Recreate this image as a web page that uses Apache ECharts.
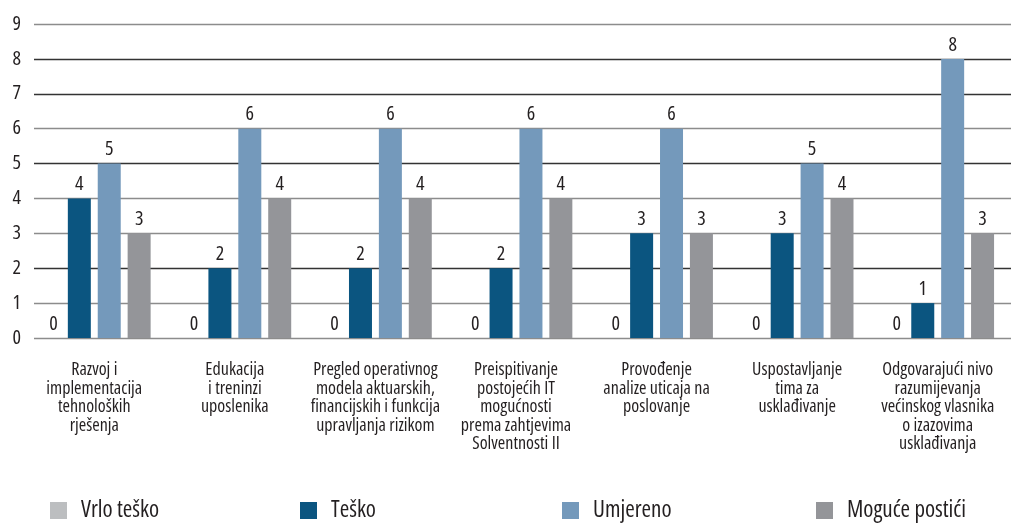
<!DOCTYPE html>
<html>
<head>
<meta charset="utf-8">
<script src="https://cdn.jsdelivr.net/npm/echarts@6/dist/echarts.min.js"></script>
<style>html,body{margin:0;padding:0;background:#fff}#c{width:1011px;height:524px}</style>
</head>
<body>
<div id="c"></div>
<script>
const categories = [
  "Razvoj i\nimplementacija\ntehnoloških\nrješenja",
  "Edukacija\ni treninzi\nuposlenika",
  "Pregled operativnog\nmodela aktuarskih,\nfinancijskih i funkcija\nupravljanja rizikom",
  "Preispitivanje\npostojećih IT\nmogućnosti\nprema zahtjevima\nSolventnosti II",
  "Provođenje\nanalize uticaja na\nposlovanje",
  "Uspostavljanje\ntima za\nusklađivanje",
  "Odgovarajući nivo\nrazumijevanja\nvećinskog vlasnika\no izazovima\nusklađivanja"
];
const seriesNames = ["Vrlo teško", "Teško", "Umjereno", "Moguće postići"];
const vrloTesko = [0, 0, 0, 0, 0, 0, 0];
const tesko = [4, 2, 2, 2, 3, 3, 1];
const umjereno = [5, 6, 6, 6, 6, 5, 8];
const moguce = [3, 4, 4, 4, 3, 4, 3];
const yTicks = [0, 1, 2, 3, 4, 5, 6, 7, 8, 9];

const colors = ["#bcbec0", "#0b5580", "#7499bb", "#949599"];
const FONT = "'Open Sans', 'Noto Sans', sans-serif";
const STRETCH = 'condensed';
const dataSets = [vrloTesko, tesko, umjereno, moguce];
const yMin = yTicks[0], yMax = yTicks[yTicks.length - 1];

const chart = echarts.init(document.getElementById('c'), null, {renderer: 'canvas'});
const legendLefts = [50, 300, 562, 816];
chart.setOption({
  animation: false,
  color: colors,
  grid: [
    {left: 34, right: 0, top: 24, bottom: 186, containLabel: false},
    {left: 24, right: 3, top: 24, bottom: 186, containLabel: false}
  ],
  legend: seriesNames.map((n, i) => ({
    data: [n], left: legendLefts[i], top: 499, padding: 0, itemWidth: 17, itemHeight: 17,
    icon: 'rect',
    textStyle: {fontFamily: FONT, fontWeight: STRETCH, fontSize: 23, color: '#231f20', padding: [0, 0, 0, 9]}
  })),
  xAxis: [
    {type: 'category', gridIndex: 0, data: categories, show: false},
    {
      type: 'category', gridIndex: 1, data: categories,
      axisLine: {show: false}, axisTick: {show: false},
      axisLabel: {interval: 0, fontFamily: FONT, fontWeight: STRETCH, fontSize: 18, lineHeight: 18.5, color: '#231f20', margin: 23}
    }
  ],
  yAxis: [
    {
      type: 'value', gridIndex: 0, min: yMin, max: yMax, interval: 1,
      axisLine: {show: false}, axisTick: {show: false},
      axisLabel: {fontFamily: FONT, fontWeight: STRETCH, fontSize: 20, color: '#231f20', margin: 13},
      splitLine: {lineStyle: {width: 1.3, color: ['#8c8c8c','#8c8c8c','#333','#8c8c8c','#8c8c8c','#333','#8c8c8c','#333','#333','#8c8c8c']}}
    },
    {type: 'value', gridIndex: 1, min: yMin, max: yMax, interval: 1, show: false, splitLine: {show: false}}
  ],
  series: seriesNames.map((n, i) => ({
    name: n, type: 'bar', xAxisIndex: 1, yAxisIndex: 1, data: dataSets[i], barWidth: 23, barGap: '30%',
    label: {show: true, position: 'top', distance: 4, offset: i === 0 ? [4, 0] : [0, 0],
      fontFamily: FONT, fontWeight: STRETCH, fontSize: 20, color: '#231f20'}
  }))
});
</script>
</body>
</html>
